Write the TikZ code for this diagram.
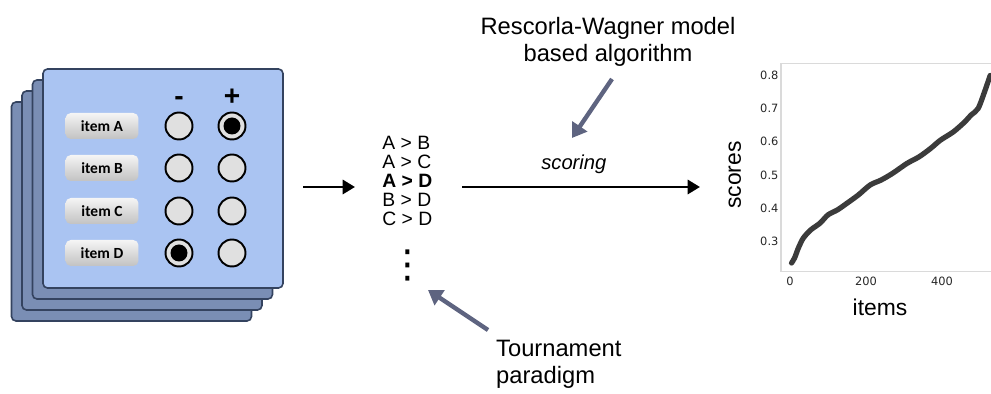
\documentclass[tikz,border=0pt]{standalone}
\usepackage{fontspec}
\setmainfont{Liberation Sans}
\newfontfamily\itemfont{Carlito}
\newfontfamily\tickfont{DejaVu Sans}
\usetikzlibrary{arrows.meta}
\definecolor{frontblue}{HTML}{AAC4F2}
\definecolor{backblue}{HTML}{7A8EB4}
\definecolor{cardedge}{HTML}{34435F}
\definecolor{hintgray}{HTML}{5E6480}
\definecolor{boxgray}{HTML}{DADADA}

\tikzset{
  card/.style={draw=cardedge, line width=0.9pt, rounded corners=2.5pt, minimum width=4.8cm, minimum height=4.38cm, inner sep=0pt},
  itembox/.style={rounded corners=3pt, top color=white!96!black, bottom color=white!76!black, minimum width=1.46cm, minimum height=0.52cm, inner sep=0pt, font=\itemfont\bfseries\fontsize{8.8}{10}\selectfont},
  radio/.style={circle, draw=black, line width=1.1pt, fill=white!88!black, minimum size=0.54cm, inner sep=0pt},
  picked/.style={radio, path picture={\fill[black] (path picture bounding box.center) circle (0.17cm);}},
  sign/.style={font=\bfseries\fontsize{16}{18}\selectfont},
  pair/.style={anchor=west, inner sep=0pt, font=\fontsize{11}{13}\selectfont},
  flow/.style={-{Triangle[length=7pt,width=8pt]}, line width=1.6pt},
  hint/.style={-{Triangle[length=8pt,width=10pt]}, line width=2.5pt, draw=hintgray, fill=hintgray},
  note/.style={align=center, font=\fontsize{13.5}{15.5}\selectfont},
  ticklab/.style={font=\tickfont\fontsize{6.5}{7}\selectfont, text=black!85, inner sep=1pt},
  axlab/.style={font=\fontsize{13}{15}\selectfont},
}

\begin{document}
\begin{tikzpicture}[x=0.02cm, y=-0.02cm]
    \useasboundingbox (0,0) rectangle (991,394);

    % stack of rating sheets
    \foreach \i in {3,2,1}
        \node[card, fill=backblue] (card\i) at (163-10.5*\i,178.5+11*\i) {};
    \node[card, fill=frontblue] (card0) at (163,178.5) {};

    \node[sign] (minus) at (179,101) {-};
    \node[sign] (plus) at (232,97) {+};
    \foreach \n/\y/\m/\p in {A/126/radio/picked, B/168/radio/radio, C/211/radio/radio, D/253/picked/radio}{
        \node[itembox] (item\n) at (102,\y) {item \n};
        \node[\m] (minus\n) at (179,\y) {};
        \node[\p] (plus\n) at (232,\y) {};
    }

    % pairwise comparisons
    \foreach \cmp [count=\k] in {A > B, A > C, \textbf{A > D}, B > D, C > D}
        \node[pair] (pair\k) at (382,124+19*\k) {\cmp};
    \node[inner sep=0pt, font=\tickfont\fontsize{22}{22}\selectfont] (more) at (408,265) {⋮};

    \coordinate (cardout) at (303,187);
    \coordinate (listin) at (355,187);
    \coordinate (listout) at (462,187);
    \coordinate (plotin) at (700,187);
    \draw[flow] (cardout) -- (listin);
    \draw[flow] (listout) -- node[pos=0.47, above=3.6pt, font=\itshape\fontsize{11.5}{13}\selectfont] (scoring) {scoring} (plotin);

    % annotations
    \node[note] (rw) at (608,42) {Rescorla-Wagner model\\based algorithm};
    \node[note, align=left, anchor=west] (tp) at (490,364) {Tournament\\paradigm};
    \coordinate (rwfrom) at (612,79);
    \coordinate (rwto) at (572,138);
    \coordinate (tpfrom) at (488,330);
    \coordinate (tpto) at (428,290);
    \draw[hint] (rwfrom) -- (rwto);
    \draw[hint] (tpfrom) -- (tpto);

    % score plot
    \begin{scope}[shift={(790,341)}, x=0.0076cm, y=6.64cm]
        \draw[boxgray, line width=0.6pt] (529,0.837) -- (-23.7,0.837) -- (-23.7,0.208) -- (529,0.208);
        \foreach \v in {0,200,400}
            \node[ticklab, below] (xt\v) at (\v,0.2) {\v};
        \foreach \v in {0.3,0.4,0.5,0.6,0.7,0.8}
            \node[ticklab, left] (yt\v) at (-25,\v) {\v};
        \draw[black!85, line width=3pt, line cap=round, opacity=0.9] plot[smooth] coordinates {
            (4,0.235) (12,0.25) (22,0.28) (35,0.31) (55,0.335) (79,0.355) (100,0.38) (125,0.395)
            (150,0.415) (180,0.44) (211,0.47) (240,0.485) (270,0.505) (308,0.535) (340,0.555)
            (370,0.58) (396,0.605) (430,0.63) (460,0.66) (476,0.68) (495,0.70) (511,0.747) (527,0.80)};
        \node[axlab, rotate=90] (scores) at (-145,0.5) {scores};
        \node[axlab] (items) at (237,0.1) {items};
    \end{scope}
\end{tikzpicture}
\end{document}
